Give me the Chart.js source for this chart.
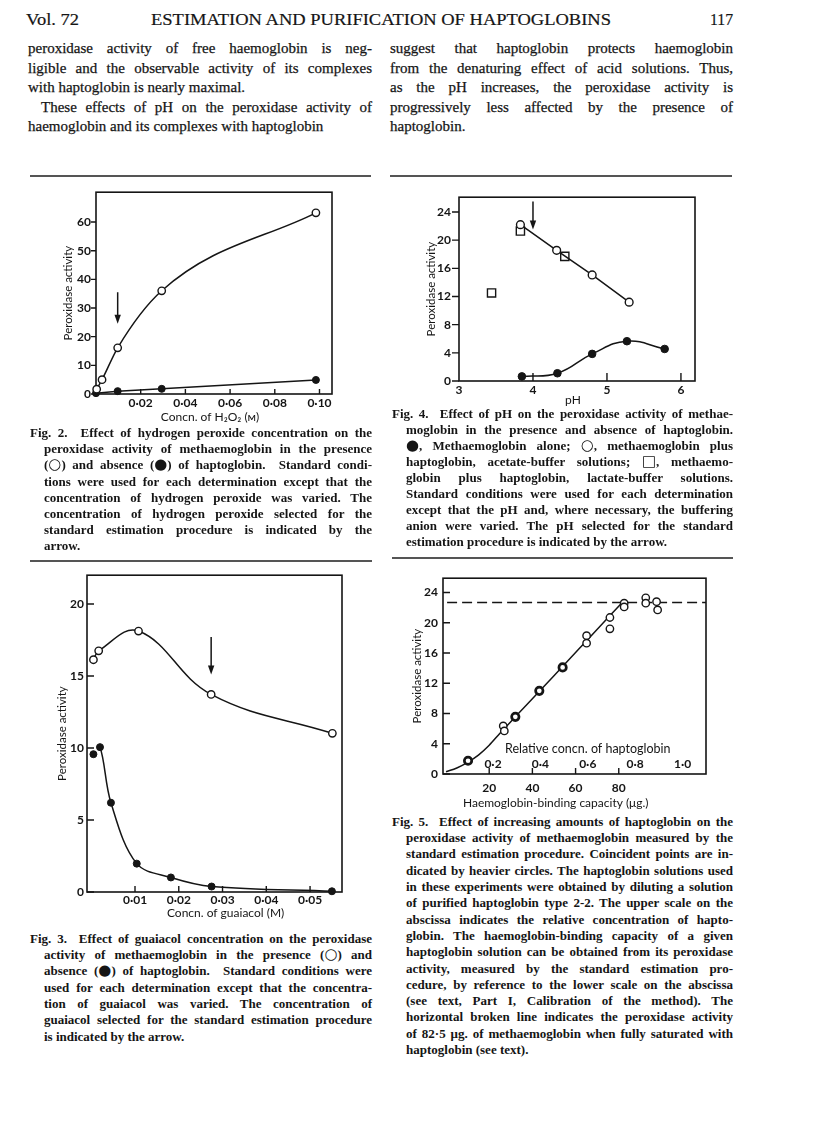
<!DOCTYPE html>
<html>
<head>
<meta charset="utf-8">
<script src="https://cdn.jsdelivr.net/npm/chart.js@4.4.0/dist/chart.umd.min.js"></script>
<style>
  html, body { margin: 0; padding: 0; background: #fff; }
  body { width: 816px; height: 1138px; position: relative; overflow: hidden; }
  .ln { position: absolute; white-space: pre; color: #151515; }
  .ln span { display: inline-block; transform-origin: 0 50%; }
  .hdr { font: 17px "Liberation Serif", serif; -webkit-text-stroke: 0.2px #151515; }
  .txt { font: 15px "Liberation Serif", serif; -webkit-text-stroke: 0.25px #151515; }
  .cap { font: bold 13px "Liberation Serif", serif; }
  .sym { font-style: normal; font-family: "DejaVu Sans", sans-serif; font-size: 1.15em; line-height: 0; }
  .rule { position: absolute; height: 1.5px; background: #555; }
  canvas { position: absolute; }
</style>
</head>
<body>
<div class="rule" style="left:30px;top:175px;width:341px"></div>
<div class="rule" style="left:390px;top:175px;width:342px"></div>
<div class="rule" style="left:30px;top:560px;width:342px"></div>
<div class="rule" style="left:392px;top:557px;width:341px"></div>

<canvas id="fig2" width="320" height="248" style="left:20px;top:180px"></canvas>
<canvas id="fig4" width="305" height="230" style="left:400px;top:182px"></canvas>
<canvas id="fig3" width="322" height="360" style="left:30px;top:565px"></canvas>
<canvas id="fig5" width="326" height="245" style="left:390px;top:566px"></canvas>

<script>
// ---- Fig. 2: concentration of H2O2 (M) ----
const fig2OpenX = [0.0003, 0.0027, 0.0097, 0.0294, 0.0984];
const fig2OpenY = [1.7, 5.0, 16.1, 36.0, 63.2];
const fig2FillX = [0.0, 0.0097, 0.0294, 0.0984];
const fig2FillY = [0.3, 1.0, 1.8, 4.9];
const fig2XTicks = [0.02, 0.04, 0.06, 0.08, 0.10];
const fig2YTicks = [0, 10, 20, 30, 40, 50, 60];
const fig2Arrow = { x: 0.0097, from: 35.5, to: 24.5 };

// ---- Fig. 4: pH ----
const fig4OpenX = [3.83, 4.32, 4.80, 5.30];
const fig4OpenY = [22.2, 18.55, 15.06, 11.2];
const fig4SquareX = [3.83, 4.43, 3.44];
const fig4SquareY = [21.3, 17.7, 12.5];
const fig4FillX = [3.85, 4.33, 4.80, 5.27, 5.78];
const fig4FillY = [0.65, 1.1, 3.85, 5.65, 4.55];
const fig4XTicks = [3, 4, 5, 6];
const fig4YTicks = [0, 4, 8, 12, 16, 20, 24];
const fig4Arrow = { x: 4.0, from: 25.5, to: 21.5 };

// ---- Fig. 3: concentration of guaiacol (M) ----
const fig3OpenX = [0.0005, 0.0017, 0.0108, 0.0274, 0.0551];
const fig3OpenY = [16.13, 16.75, 18.12, 13.72, 11.02];
const fig3FillX = [0.0005, 0.0020, 0.0045, 0.0104, 0.0182, 0.0275, 0.0550];
const fig3FillY = [9.57, 10.06, 6.2, 1.97, 1.01, 0.38, 0.05];
const fig3XTicks = [0.01, 0.02, 0.03, 0.04, 0.05];
const fig3YTicks = [0, 5, 10, 15, 20];
const fig3Arrow = { x: 0.0274, from: 17.7, to: 15.1 };

// ---- Fig. 5: haemoglobin-binding capacity (ug) ----
const fig5PtsX = [26.5, 27.0, 65.1, 65.1, 75.9, 75.9, 82.5, 82.5, 92.5, 92.5, 97.5, 98.0];
const fig5PtsY = [6.36, 5.7, 18.3, 17.3, 20.7, 19.2, 22.6, 22.1, 23.3, 22.6, 22.8, 21.7];
const fig5HeavyX = [10.2, 32.1, 43.2, 54.0];
const fig5HeavyY = [1.75, 7.56, 11.0, 14.1];
const fig5CurveX = [0, 5, 10, 15, 20, 25, 32.1, 50, 65, 81.6];
const fig5CurveY = [0.3, 0.8, 1.55, 2.5, 3.8, 5.4, 7.56, 13.0, 17.6, 22.7];
const fig5Saturation = 22.7;
const fig5XTicks = [20, 40, 60, 80];
const fig5YTicks = [0, 4, 8, 12, 16, 20, 24];
const fig5RelTicks = [0.2, 0.4, 0.6, 0.8, 1.0];

const INK = '#151515';
const pts = (xs, ys) => xs.map((x, i) => ({ x, y: ys[i] }));
const dot = n => v => v.toFixed(n).replace('.', '\u00b7');

// frame, inward/outward tick marks, arrows, extra labels
const decor = {
  id: 'decor',
  beforeDatasetsDraw(chart, args, o) {
    const { ctx, chartArea: a, scales: { x, y } } = chart;
    ctx.save();
    ctx.strokeStyle = INK;
    ctx.lineWidth = 1.6;
    ctx.strokeRect(a.left, a.top, a.right - a.left, a.bottom - a.top);
    ctx.lineWidth = 1.4;
    ctx.beginPath();
    o.xMarks.forEach(v => {
      const px = x.getPixelForValue(v);
      ctx.moveTo(px, a.bottom);
      ctx.lineTo(px, a.bottom - o.xLen);
    });
    o.yMarks.forEach(v => {
      const py = y.getPixelForValue(v);
      ctx.moveTo(a.left, py);
      ctx.lineTo(a.left + o.yDir * o.yLen, py);
    });
    ctx.stroke();
    ctx.restore();
  },
  afterDatasetsDraw(chart, args, o) {
    const { ctx, chartArea: a, scales: { x, y } } = chart;
    ctx.save();
    ctx.fillStyle = INK;
    ctx.strokeStyle = INK;
    if (o.arrow) {
      const px = x.getPixelForValue(o.arrow.x);
      const p0 = y.getPixelForValue(o.arrow.from);
      const p1 = y.getPixelForValue(o.arrow.to);
      ctx.lineWidth = 1.5;
      ctx.beginPath();
      ctx.moveTo(px, p0);
      ctx.lineTo(px, p1 - 5);
      ctx.stroke();
      ctx.beginPath();
      ctx.moveTo(px - 3.2, p1 - 9);
      ctx.lineTo(px + 3.2, p1 - 9);
      ctx.lineTo(px, p1);
      ctx.closePath();
      ctx.fill();
    }
    ctx.textAlign = 'center';
    ctx.textBaseline = 'middle';
    if (o.xTitle) {
      ctx.font = '12px Lato';
      ctx.fillText(o.xTitle.text, x.getPixelForValue(o.xTitle.at), a.bottom + o.xTitle.dy);
    }
    if (o.upper) {
      const s = chart.scales.x2;
      ctx.font = 'bold 12px Lato';
      o.upper.ticks.forEach(v => ctx.fillText(dot(1)(v), s.getPixelForValue(v), a.bottom - o.upper.dy));
      ctx.font = '12.5px Lato';
      ctx.fillText(o.upper.title, s.getPixelForValue(o.upper.titleAt), a.bottom - o.upper.titleDy);
    }
    ctx.restore();
  }
};

function plot(id, o) {
  const tickFont = { family: 'Lato', size: 12, weight: 'bold' };
  const scales = {
    x: {
      type: 'linear', position: 'bottom', min: o.xr[0], max: o.xr[1],
      grid: { display: false, drawTicks: false }, border: { display: false },
      afterBuildTicks: s => { s.ticks = o.xLab.map(v => ({ value: v })); },
      afterFit: s => { s.height = o.xH; },
      ticks: { padding: o.xPad, font: tickFont, color: INK, maxRotation: 0, autoSkip: false, callback: o.xFmt }
    },
    y: {
      type: 'linear', position: 'left', min: o.yr[0], max: o.yr[1],
      grid: { display: false, drawTicks: false }, border: { display: false },
      afterBuildTicks: s => { s.ticks = o.yLab.map(v => ({ value: v })); },
      afterFit: s => { s.width = o.yW; },
      ticks: { padding: o.yPad, font: tickFont, color: INK, autoSkip: false, callback: v => String(v) },
      title: { display: true, text: 'Peroxidase activity', color: INK,
               font: { family: 'Lato', size: 11.5 }, padding: { top: o.yTitlePad, bottom: 0 } }
    }
  };
  if (o.x2) scales.x2 = { type: 'linear', display: false, min: o.x2[0], max: o.x2[1] };
  return new Chart(document.getElementById(id), {
    type: 'scatter',
    data: { datasets: o.datasets },
    options: {
      responsive: false, animation: false, devicePixelRatio: 1,
      layout: { padding: { top: o.pad[0], right: o.pad[1], bottom: 0, left: 0 } },
      plugins: { legend: { display: false }, tooltip: { enabled: false }, decor: o.decor },
      scales
    },
    plugins: [decor]
  });
}

const openStyle = { borderColor: INK, borderWidth: 1.5, pointRadius: 3.7, pointBackgroundColor: '#fff',
  pointBorderColor: INK, pointBorderWidth: 1.4, clip: false };
const fillStyle = { borderColor: INK, borderWidth: 1.5, pointRadius: 3.5, pointBackgroundColor: INK,
  pointBorderColor: INK, pointBorderWidth: 1, clip: false };

plot('fig2', {
  xr: [0, 0.1056], yr: [0, 70.4], xLab: fig2XTicks, yLab: fig2YTicks, xFmt: dot(2),
  pad: [7, 8], yW: 76, xH: 34, xPad: 2, yPad: 5, yTitlePad: 41,
  datasets: [
    { data: pts(fig2OpenX, fig2OpenY), showLine: true, cubicInterpolationMode: 'monotone', ...openStyle },
    { data: pts(fig2FillX, fig2FillY), showLine: true, ...fillStyle }
  ],
  decor: { xMarks: fig2XTicks, xLen: 5, yMarks: fig2YTicks, yLen: 5, yDir: -1, arrow: fig2Arrow,
           xTitle: { text: 'Concn. of H\u2082O\u2082 (\u1d0d)', at: 0.051, dy: 23 } }
});

plot('fig4', {
  xr: [3, 6.19], yr: [0, 26.1], xLab: fig4XTicks, yLab: fig4YTicks, xFmt: v => String(v),
  pad: [7, 10], yW: 59, xH: 31, xPad: 2, yPad: 8, yTitlePad: 24,
  datasets: [
    { data: pts(fig4OpenX, fig4OpenY), showLine: true, tension: 0, ...openStyle, pointRadius: 3.9 },
    { data: pts(fig4SquareX, fig4SquareY), showLine: false, ...openStyle, pointStyle: 'rect', pointRadius: 5.8 },
    { data: pts(fig4FillX, fig4FillY), showLine: true, tension: 0.45, ...fillStyle, pointRadius: 3.8 }
  ],
  decor: { xMarks: [4, 5, 6], xLen: 8, yMarks: fig4YTicks, yLen: 7, yDir: -1, arrow: fig4Arrow,
           xTitle: { text: 'pH', at: 4.54, dy: 19 } }
});

plot('fig3', {
  xr: [-0.00097, 0.0573], yr: [0, 22.0], xLab: fig3XTicks, yLab: fig3YTicks, xFmt: dot(2),
  pad: [7, 10], yW: 57, xH: 33, xPad: 1, yPad: 3, yTitlePad: 25,
  datasets: [
    { data: pts(fig3OpenX, fig3OpenY), showLine: true, tension: 0.4, ...openStyle },
    { data: pts(fig3FillX, fig3FillY), showLine: true, tension: 0.35, ...fillStyle,
      segment: { borderColor: c => c.p0DataIndex === 0 ? 'rgba(0,0,0,0)' : INK } }
  ],
  decor: { xMarks: fig3XTicks, xLen: 6, yMarks: fig3YTicks, yLen: 7, yDir: 1, arrow: fig3Arrow,
           xTitle: { text: 'Concn. of guaiacol (M)', at: 0.0307, dy: 21 } }
});

plot('fig5', {
  xr: [-1.4, 120.4], yr: [0, 25.9], x2: [-0.011, 1.099], xLab: fig5XTicks, yLab: fig5YTicks, xFmt: v => String(v),
  pad: [7, 10], yW: 53, xH: 37, xPad: 7, yPad: 5, yTitlePad: 20,
  datasets: [
    { data: pts(fig5HeavyX, fig5HeavyY), showLine: false, ...openStyle, pointBorderWidth: 2.7, pointRadius: 3.7 },
    { data: pts(fig5PtsX, fig5PtsY), showLine: false, ...openStyle, pointRadius: 3.7 },
    { data: pts(fig5CurveX, fig5CurveY), showLine: true, cubicInterpolationMode: 'monotone',
      borderColor: INK, borderWidth: 1.5, pointRadius: 0, clip: false },
    { data: [{ x: 0.5, y: fig5Saturation }, { x: 120.4, y: fig5Saturation }], showLine: true,
      borderColor: INK, borderWidth: 1.5, borderDash: [10, 5], pointRadius: 0 }
  ],
  decor: { xMarks: fig5XTicks, xLen: 6, yMarks: fig5YTicks, yLen: 7, yDir: 1,
           xTitle: { text: 'Haemoglobin-binding capacity (\u03bcg.)', at: 50.8, dy: 29 },
           upper: { ticks: fig5RelTicks, dy: 10, title: 'Relative concn. of haptoglobin', titleAt: 0.6, titleDy: 25 } }
});

// ---- page text ----
const blocks = [
  { cls: 'hdr', x: 26, y: 20, w: 53, force: true, lines: ['Vol. 72'] },
  { cls: 'hdr', x: 151, y: 20, w: 460, force: true, lines: ['ESTIMATION AND PURIFICATION OF HAPTOGLOBINS'] },
  { cls: 'hdr', x: 710, y: 20, w: 23, force: true, lines: ['117'] },
  { cls: 'txt', x: 28, y: 49, w: 344, lh: 19.5, lines: [
    'peroxidase activity of free haemoglobin is neg-',
    'ligible and the observable activity of its complexes',
    { t: 'with haptoglobin is nearly maximal.', j: false },
    { t: 'These effects of pH on the peroxidase activity of', ind: 13 },
    'haemoglobin and its complexes with haptoglobin'] },
  { cls: 'txt', x: 390, y: 49, w: 343, lh: 19.5, lines: [
    'suggest that haptoglobin protects haemoglobin',
    'from the denaturing effect of acid solutions. Thus,',
    'as the pH increases, the peroxidase activity is',
    'progressively less affected by the presence of',
    { t: 'haptoglobin.', j: false }] },
  { cls: 'cap', x: 30, y: 433, w: 342, lh: 16.2, hang: 14, lines: [
    'Fig. 2.  Effect of hydrogen peroxide concentration on the',
    'peroxidase activity of methaemoglobin in the presence',
    '(\u25cb) and absence (\u25cf) of haptoglobin.  Standard condi-',
    'tions were used for each determination except that the',
    'concentration of hydrogen peroxide was varied. The',
    'concentration of hydrogen peroxide selected for the',
    'standard estimation procedure is indicated by the',
    'arrow.'] },
  { cls: 'cap', x: 392, y: 414, w: 341, lh: 16.0, hang: 14, lines: [
    'Fig. 4.  Effect of pH on the peroxidase activity of methae-',
    'moglobin in the presence and absence of haptoglobin.',
    '\u25cf, Methaemoglobin alone; \u25cb, methaemoglobin plus',
    'haptoglobin, acetate-buffer solutions; \u25a1, methaemo-',
    'globin plus haptoglobin, lactate-buffer solutions.',
    'Standard conditions were used for each determination',
    'except that the pH and, where necessary, the buffering',
    'anion were varied. The pH selected for the standard',
    'estimation procedure is indicated by the arrow.'] },
  { cls: 'cap', x: 30, y: 939, w: 342, lh: 16.3, hang: 14, lines: [
    'Fig. 3.  Effect of guaiacol concentration on the peroxidase',
    'activity of methaemoglobin in the presence (\u25cb) and',
    'absence (\u25cf) of haptoglobin.  Standard conditions were',
    'used for each determination except that the concentra-',
    'tion of guaiacol was varied. The concentration of',
    'guaiacol selected for the standard estimation procedure',
    'is indicated by the arrow.'] },
  { cls: 'cap', x: 392, y: 822, w: 341, lh: 16.3, hang: 14, lines: [
    'Fig. 5.  Effect of increasing amounts of haptoglobin on the',
    'peroxidase activity of methaemoglobin measured by the',
    'standard estimation procedure. Coincident points are in-',
    'dicated by heavier circles. The haptoglobin solutions used',
    'in these experiments were obtained by diluting a solution',
    'of purified haptoglobin type 2-2. The upper scale on the',
    'abscissa indicates the relative concentration of hapto-',
    'globin. The haemoglobin-binding capacity of a given',
    'haptoglobin solution can be obtained from its peroxidase',
    'activity, measured by the standard estimation pro-',
    'cedure, by reference to the lower scale on the abscissa',
    '(see text, Part I, Calibration of the method). The',
    'horizontal broken line indicates the peroxidase activity',
    'of 82\u00b75 \u03bcg. of methaemoglobin when fully saturated with',
    'haptoglobin (see text).'] }
];

const esc = s => s.replace(/&/g, '&amp;').replace(/</g, '&lt;');

blocks.forEach(b => {
  const lh = b.lh || 20;
  b.lines.forEach((l, i) => {
    const line = typeof l === 'string' ? { t: l } : l;
    const last = i === b.lines.length - 1;
    const justify = line.j !== undefined ? line.j : !last;
    const ind = (line.ind || 0) + (i > 0 && b.hang ? b.hang : 0);
    const w = b.w - ind;
    const div = document.createElement('div');
    div.className = 'ln ' + b.cls;
    div.style.left = (b.x + ind) + 'px';
    div.style.top = (b.y + i * lh - lh / 2) + 'px';
    div.style.lineHeight = lh + 'px';
    const span = document.createElement('span');
    span.innerHTML = esc(line.t).replace(/[\u25cb\u25cf\u25a1]/g, m => '<i class="sym">' + m + '</i>');
    div.appendChild(span);
    document.body.appendChild(div);
    const nat = span.getBoundingClientRect().width;
    if (b.force) {
      span.style.transform = 'scaleX(' + (w / nat) + ')';
    } else if (nat > w) {
      span.style.transform = 'scaleX(' + (w / nat) + ')';
    } else if (justify) {
      const gaps = (line.t.match(/ /g) || []).length;
      if (gaps) span.style.wordSpacing = ((w - nat) / gaps) + 'px';
    }
  });
});
</script>
</body>
</html>
